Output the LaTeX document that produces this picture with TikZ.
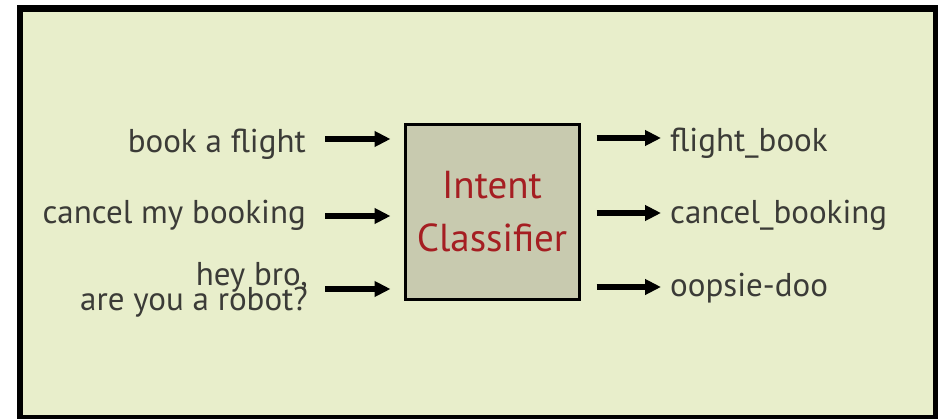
\documentclass[tikz,border=0pt]{standalone}
\usepackage{fontspec}
\setmainfont{PT Sans}
\usetikzlibrary{arrows.meta}
\definecolor{panel}{HTML}{E8EECB}
\definecolor{boxfill}{HTML}{C8CAAF}
\definecolor{boxtext}{HTML}{A51E22}
\definecolor{labeltext}{HTML}{3B3B37}
\tikzset{
  lbl/.style={inner sep=0pt, text=labeltext, font=\fontsize{33}{25}\selectfont},
  flow/.style={line width=5.5pt, -{Triangle[length=16pt,width=15pt]}},
  classifier/.style={draw=black, line width=3pt, fill=boxfill, minimum width=174pt,
    minimum height=175pt, inner sep=0pt, align=center, text=boxtext,
    font=\fontsize{39}{52}\selectfont}
}
\begin{document}
\begin{tikzpicture}[x=1pt, y=-1pt]
  \useasboundingbox (0,0) rectangle (940,418);
  % frame and panel
  \fill[white] (0,0) rectangle (940,418);
  \fill[black] (17,5) rectangle (938,420);
  \fill[panel] (23,12) rectangle (933,415);
  % classifier box
  \node[classifier] (box) at (492,212) {Intent\\[1pt]Classifier};
  % inputs
  \node[lbl, anchor=base east] (in1) at (306,152) {book a flight};
  \node[lbl, anchor=base east] (in2) at (306,223) {cancel my booking};
  \node[lbl, anchor=base east] (in3) at (308,310)
    {\begin{tabular}[b]{@{}r@{}}hey bro,\\[-6pt]are you a robot?\end{tabular}};
  % outputs
  \node[lbl, anchor=base west] (out1) at (670,151) {flight\_book};
  \node[lbl, anchor=base west] (out2) at (670,223) {cancel\_booking};
  \node[lbl, anchor=base west] (out3) at (670,296) {oopsie-doo};
  % arrow ends
  \coordinate (a1) at (325,139);
  \coordinate (a2) at (325,216);
  \coordinate (a3) at (325,289);
  \coordinate (b1) at (661,138);
  \coordinate (b2) at (661,213);
  \coordinate (b3) at (661,287);
  \foreach \i in {1,2,3}{
    \draw[flow, shorten >=13pt] (a\i) -- (a\i -| box.west);
    \draw[flow, shorten <=16pt] (b\i -| box.east) -- (b\i);
  }
\end{tikzpicture}
\end{document}
